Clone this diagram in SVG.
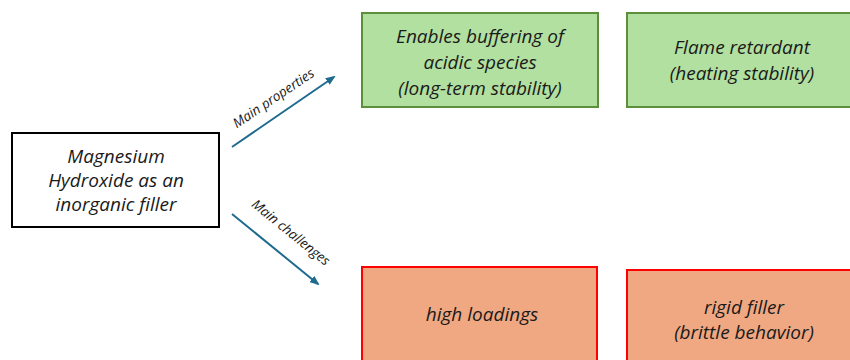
<svg xmlns="http://www.w3.org/2000/svg" width="850" height="360" viewBox="0 0 850 360">
  <defs>
    <marker id="arrowhead" markerWidth="10" markerHeight="8" refX="8" refY="4" orient="auto" markerUnits="userSpaceOnUse">
      <path d="M0,0 L10,4 L0,8 Z" fill="#1f6b8f"/>
    </marker>
    <style>
      .label { font-family: "Open Sans", "Liberation Sans", sans-serif; font-style: italic; font-size: 19px; fill: #1a1a1a; text-anchor: middle; }
      .edge-label { font-family: "Open Sans", "Liberation Sans", sans-serif; font-style: italic; font-size: 13.5px; fill: #1a1a1a; text-anchor: middle; }
      .source { fill: #ffffff; stroke: #000000; stroke-width: 2; }
      .property { fill: #b2e0a0; stroke: #5b8f3a; stroke-width: 2; }
      .challenge { fill: #f0a882; stroke: #ff0000; stroke-width: 2; }
      .edge { stroke: #1f6b8f; stroke-width: 2; fill: none; }
    </style>
  </defs>

  <rect width="850" height="360" fill="#ffffff"/>

  <g id="magnesium-hydroxide">
    <rect class="source" x="12" y="133" width="207" height="94"/>
    <text class="label" x="116" y="163">Magnesium</text>
    <text class="label" x="116" y="187">Hydroxide as an</text>
    <text class="label" x="116" y="211">inorganic filler</text>
  </g>

  <g id="buffering">
    <rect class="property" x="362" y="13" width="236" height="94"/>
    <text class="label" x="480" y="43">Enables buffering of</text>
    <text class="label" x="480" y="69">acidic species</text>
    <text class="label" x="480" y="95">(long-term stability)</text>
  </g>

  <g id="flame-retardant">
    <rect class="property" x="627" y="13" width="230" height="94"/>
    <text class="label" x="742" y="54">Flame retardant</text>
    <text class="label" x="742" y="80">(heating stability)</text>
  </g>

  <g id="high-loadings">
    <rect class="challenge" x="362" y="267" width="235" height="100"/>
    <text class="label" x="482" y="321">high loadings</text>
  </g>

  <g id="rigid-filler">
    <rect class="challenge" x="627" y="270" width="230" height="100"/>
    <text class="label" x="744" y="314">rigid filler</text>
    <text class="label" x="744" y="339">(brittle behavior)</text>
  </g>

  <g id="connectors">
    <line class="edge" x1="232" y1="147" x2="334" y2="77" marker-end="url(#arrowhead)"/>
    <text class="edge-label" transform="translate(276,102) rotate(-34)">Main properties</text>
    <line class="edge" x1="232" y1="214" x2="318" y2="284" marker-end="url(#arrowhead)"/>
    <text class="edge-label" transform="translate(288,236) rotate(39)">Main challenges</text>
  </g>
</svg>
